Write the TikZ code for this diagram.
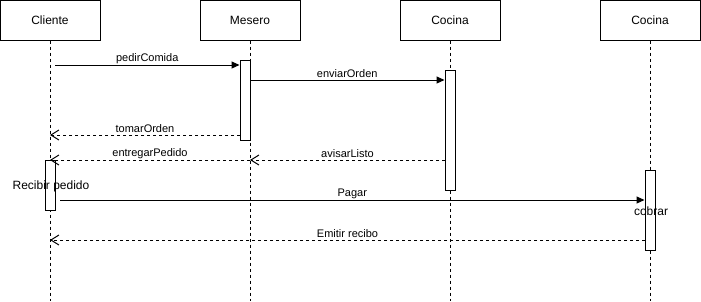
\documentclass[tikz,border=0pt]{standalone}
\usepackage{fontspec}
\setmainfont{Liberation Sans}
\usetikzlibrary{arrows.meta}
\begin{document}
\begin{tikzpicture}[x=1pt,y=-1pt,
  actor/.style={draw, line width=1pt, minimum width=100pt, minimum height=40pt,
    inner sep=0pt, font=\fontsize{12}{14}\selectfont},
  lifeline/.style={line width=1pt, dash pattern=on 3pt off 3pt},
  act/.style={draw, fill=white, line width=1pt, minimum width=10pt, inner sep=0pt},
  call/.style={line width=1pt, -{Triangle[length=8pt,width=7pt]}},
  reply/.style={line width=1pt, dash pattern=on 3pt off 3pt,
    -{Straight Barb[length=8pt,width=10pt]}},
  msg/.style={font=\fontsize{11}{13}\selectfont, inner sep=0pt, yshift=6.5pt},
  note/.style={font=\fontsize{12}{14}\selectfont, inner sep=0pt}
]
\useasboundingbox (0,0) rectangle (701,301);

% participants
\node[actor] (cliente) at (50,20)  {Cliente};
\node[actor] (mesero)  at (250,20) {Mesero};
\node[actor] (cocina)  at (450,20) {Cocina};
\node[actor] (caja)    at (650,20) {Cocina};

% lifelines
\coordinate (endC) at (50,301);
\coordinate (endM) at (250,301);
\coordinate (endK) at (450,301);
\coordinate (endJ) at (650,301);
\draw[lifeline] (cliente.south) -- (endC);
\draw[lifeline] (mesero.south)  -- (endM);
\draw[lifeline] (cocina.south)  -- (endK);
\draw[lifeline] (caja.south)    -- (endJ);

% activation bars
\node[act, minimum height=80pt]  (mact) at (245,100) {};
\node[act, minimum height=120pt] (kact) at (450,130) {};
\node[act, minimum height=50pt]  (cact) at (50,185)  {};
\node[act, minimum height=80pt]  (jact) at (650,210) {};

% messages
\coordinate (p1) at (55,65);
\draw[call] (p1) -- (p1 -| mact.west) node[msg, midway] {pedirComida};

\coordinate (p2) at (250,80);
\draw[call] (p2) -- (p2 -| kact.west) node[msg, midway] {enviarOrden};

\coordinate (p3) at (240,135);
\draw[reply] (p3) -- (p3 -| cliente.south) node[msg, midway] {tomarOrden};

\coordinate (p4) at (250,160);
\draw[reply] (p4) -- (p4 -| cliente.south) node[msg, midway] {entregarPedido};

\coordinate (p5) at (445,160);
\draw[reply] (p5) -- (p5 -| mesero.south) node[msg, midway] {avisarListo};

\coordinate (p6) at (60,200);
\draw[call] (p6) -- (p6 -| jact.west) node[msg, midway] {Pagar};

\coordinate (p7) at (645,240);
\draw[reply] (p7) -- (p7 -| cliente.south) node[msg, midway] {Emitir recibo};

% activity labels
\node[note] (recibir) at (51,186) {Recibir pedido};
\node[note] (cobrar)  at (651,211) {cobrar};
\end{tikzpicture}
\end{document}
